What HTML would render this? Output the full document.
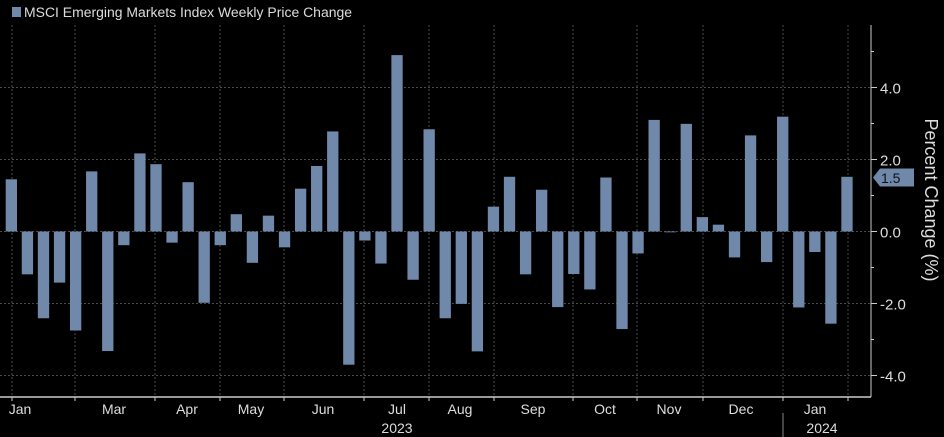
<!DOCTYPE html>
<html><head><meta charset="utf-8"><style>
html,body{margin:0;padding:0;background:#000;}
svg{display:block;font-family:"Liberation Sans",sans-serif;}
</style></head><body>
<svg id="chart" width="944" height="437">
  <rect width="944" height="437" fill="#000"/>
  <g>
    <rect x="12" y="7" width="9" height="10" fill="#7088aa"/>
    <text x="24" y="17" fill="#ddd" font-size="13.5" textLength="328" lengthAdjust="spacingAndGlyphs">MSCI Emerging Markets Index Weekly Price Change</text>
  </g>
  <g id="grid"></g>
  <g id="bars"></g>
  <g id="axes"></g>
</svg>
<script>
const values = [1.45,-1.19,-2.41,-1.42,-2.75,1.67,-3.32,-0.38,2.17,1.87,-0.31,1.37,-1.98,-0.38,0.48,-0.87,0.44,-0.44,1.19,1.82,2.78,-3.70,-0.25,-0.89,4.90,-1.34,2.84,-2.41,-2.01,-3.33,0.69,1.52,-1.19,1.16,-2.10,-1.18,-1.61,1.50,-2.71,-0.61,3.10,-0.02,2.99,0.40,0.19,-0.72,2.67,-0.85,3.19,-2.11,-0.57,-2.56,1.52];
const yTicks = [4,2,0,-2,-4];
const yMinorTicks = [5,3,1,-1,-3];
const monthLabels = ["Jan","Mar","Apr","May","Jun","Jul","Aug","Sep","Oct","Nov","Dec","Jan"];
const yearLabels = ["2023","2024"];
const lastValue = 1.5;

const NS="http://www.w3.org/2000/svg";
const zeroY=231.5, pxPerUnit=36, axisX=871, x0=5.7, step=16.07, barW=11.3, axisBottom=397;
function yScale(v){return zeroY - v*pxPerUnit;}
function xScale(i){return x0 + i*step;}
function mk(tag,attrs,parent){const e=document.createElementNS(NS,tag);for(const k in attrs)e.setAttribute(k,attrs[k]);parent.appendChild(e);return e;}
const grid=document.getElementById('grid'), bars=document.getElementById('bars'), axes=document.getElementById('axes');
// vertical grid at month boundaries (pixel positions of layout)
const vLines=[12,75,155,220,284,364,429,494,573,637,703,783,848];
vLines.forEach(x=>{
  const l=mk('line',{x1:x,x2:x,y1:25,y2:axisBottom,stroke:'#4a4a4a','stroke-dasharray':'2,2','stroke-width':1},grid);
  
  
});
yTicks.forEach(v=>{
  const y=yScale(v);
  const l=mk('line',{x1:0,x2:axisX,y1:y,y2:y,stroke:'#4a4a4a','stroke-dasharray':'2,2','stroke-width':1},grid);
  
  
  const t=mk('line',{x1:axisX,x2:axisX+6,y1:y,y2:y,stroke:'#ccc'},axes);
  
  
  const tx=mk('text',{x:axisX+9,y:y+6,fill:'#ddd','font-size':15},axes);
  tx.textContent=v.toFixed(1);
  
  
});
yMinorTicks.forEach(v=>{
  const y=yScale(v);
  const t=mk('line',{x1:axisX,x2:axisX+3,y1:y,y2:y,stroke:'#ccc'},axes);
  
  
});
values.forEach((v,i)=>{
  const y1=yScale(Math.max(v,0)), y2=yScale(Math.min(v,0));
  const r=mk('rect',{x:xScale(i),y:y1,width:barW,height:Math.max(y2-y1,0.8),fill:'#7088aa'},bars);
  
  
});
// axes lines
const ya=mk('line',{x1:axisX,x2:axisX,y1:25,y2:axisBottom,stroke:'#ccc'},axes);


const xa=mk('line',{x1:0,x2:axisX,y1:axisBottom,y2:axisBottom,stroke:'#ccc','stroke-width':1.5},axes);


vLines.forEach(x=>{
  const t=mk('line',{x1:x,x2:x,y1:axisBottom,y2:axisBottom+4,stroke:'#ccc'},axes);
  
  
});
const monthX=[20,114,187,251,323,397,460,533,605,669,741,815];
monthLabels.forEach((m,i)=>{
  const t=mk('text',{x:monthX[i],y:414,fill:'#ddd','font-size':14,'text-anchor':'middle'},axes);
  t.textContent=m;
  
  
});
const yearX=[397,822];
yearLabels.forEach((yl,i)=>{
  const t=mk('text',{x:yearX[i],y:433,fill:'#ddd','font-size':14,'text-anchor':'middle'},axes);
  t.textContent=yl;
  
  
});
const sep=mk('line',{x1:783,x2:783,y1:413,y2:437,stroke:'#888'},axes);


// axis title
const at=mk('text',{x:0,y:0,fill:'#ddd','font-size':18,'text-anchor':'middle',transform:'translate(925,200) rotate(90)'},axes);
at.textContent='Percent Change (%)';


// last value flag
const ly=yScale(lastValue);
const flag=mk('path',{d:`M${axisX+2},${ly} L${axisX+9},${ly-9} L${axisX+43},${ly-9} L${axisX+43},${ly+9} L${axisX+9},${ly+9} Z`,fill:'#7088aa'},axes);


const ft=mk('text',{x:axisX+10,y:ly+5.5,fill:'#111','font-size':14},axes);
ft.textContent=lastValue.toFixed(1);


</script>
</body></html>
